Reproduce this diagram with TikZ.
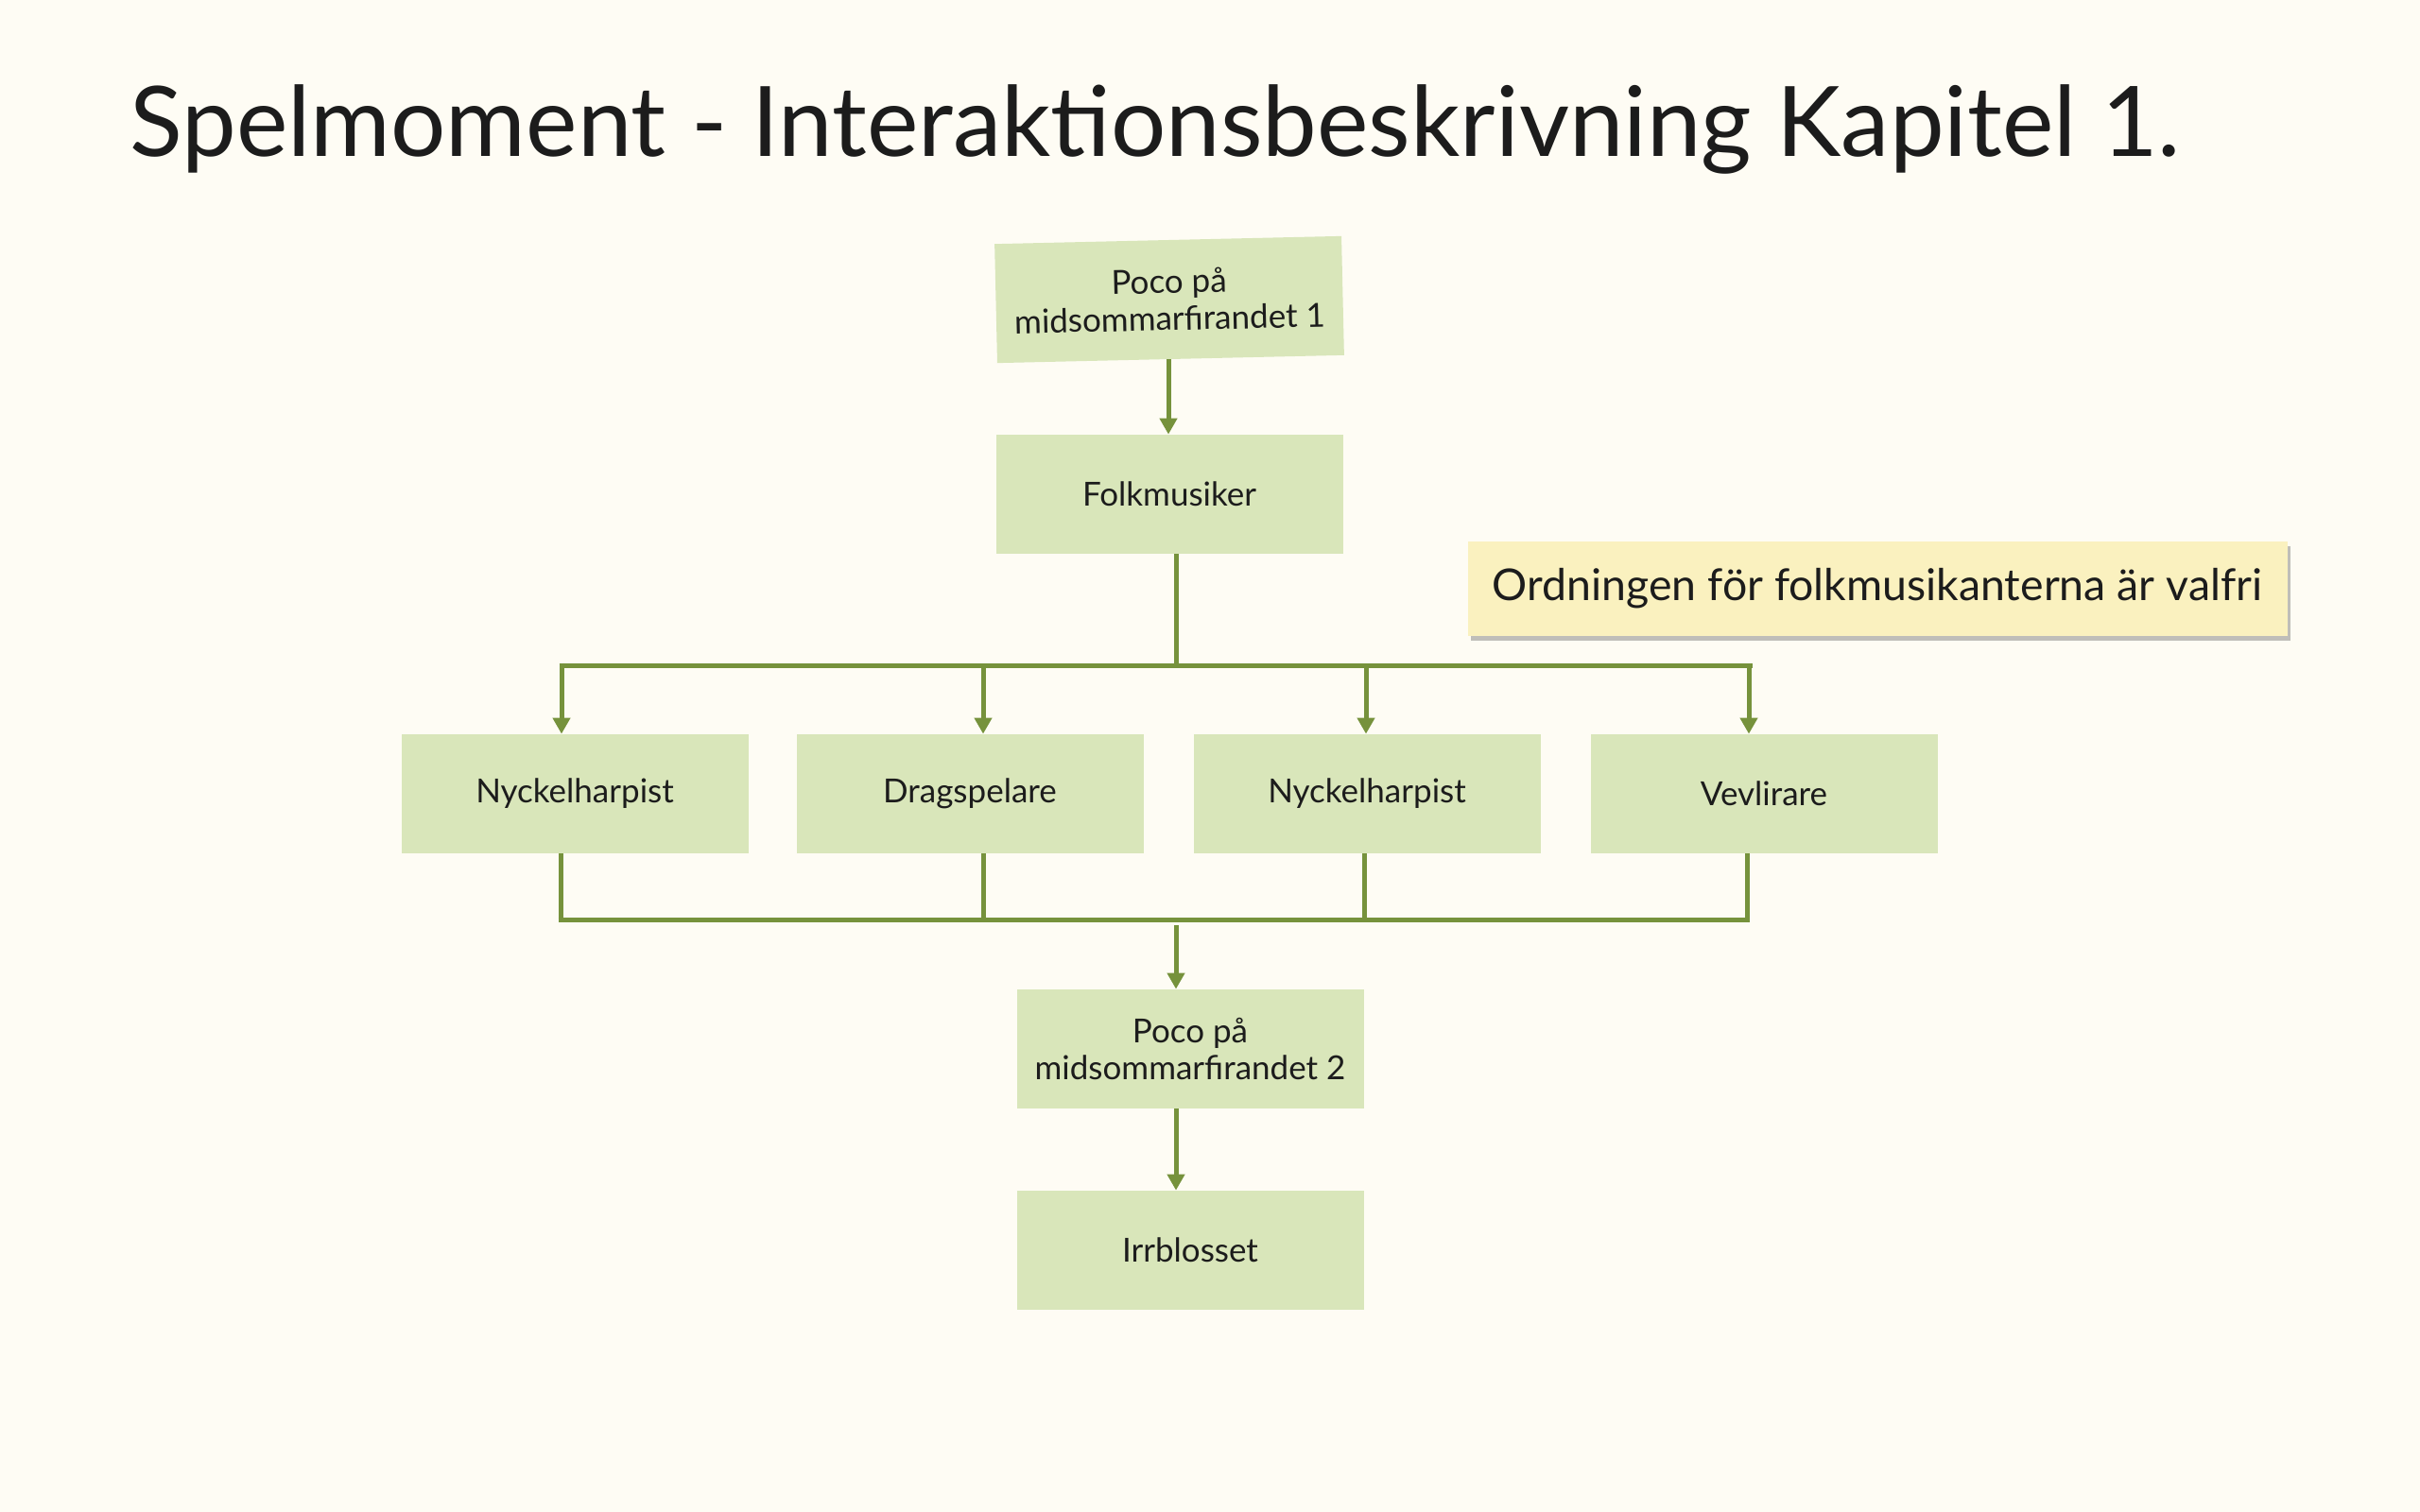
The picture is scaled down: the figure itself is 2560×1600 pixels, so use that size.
\documentclass[tikz,border=0pt]{standalone}
\usepackage{fontspec}
\setmainfont{Lato}
\usetikzlibrary{arrows.meta,shadows}
\definecolor{bgc}{HTML}{FEFCF4}
\definecolor{boxc}{HTML}{D9E6BA}
\definecolor{linec}{HTML}{76923C}
\definecolor{notec}{HTML}{FAF1BF}
\definecolor{txtc}{HTML}{1C1C1C}
\tikzset{
  stepbox/.style={fill=boxc, draw=none, minimum width=183.5pt, minimum height=63pt, inner sep=2pt, align=center, text=txtc, font=\fontsize{17.5}{19.5}\selectfont},
  conn/.style={draw=linec, line width=2.5pt},
  arr/.style={conn, -{Triangle[length=8.5pt,width=9pt]}},
}
\begin{document}
\begin{tikzpicture}[x=0.5pt,y=-0.5pt]
\fill[bgc] (0,0) rectangle (2560,1600);
\useasboundingbox (0,0) rectangle (2560,1600);

\node[anchor=base west, inner sep=0, text=txtc, font=\fontsize{51.5}{60}\selectfont] (title) at (137,165) {Spelmoment - Interaktionsbeskrivning Kapitel 1.};

\node[stepbox, rotate=1.3] (top) at (1237,317) {Poco på\\midsommarfirandet 1};
\node[stepbox] (folk) at (1237,523) {Folkmusiker};
\node[stepbox] (n1) at (608,840) {Nyckelharpist};
\node[stepbox] (drag) at (1026,840) {Dragspelare};
\node[stepbox] (n2) at (1446,840) {Nyckelharpist};
\node[stepbox] (vev) at (1866,840) {Vevlirare};
\node[stepbox] (poco2) at (1259,1110) {Poco på\\midsommarfirandet 2};
\node[stepbox] (irr) at (1259,1323) {Irrblosset};

\node[fill=notec, minimum width=433.5pt, minimum height=50pt, inner sep=0, text=txtc,
  font=\fontsize{23.2}{28}\selectfont,
  drop shadow={shadow xshift=1.5pt, shadow yshift=-2.5pt, opacity=0.35, fill=black!70}] (note) at (1986,623) {Ordningen för folkmusikanterna är valfri};

% top arrow
\coordinate (t1) at (1236,380);
\draw[arr] (t1) -- (t1 |- folk.north);

% upper bus
\coordinate (bT) at (1244,704);
\coordinate (bTL) at (594,704);
\coordinate (bTR) at (1851,704);
\coordinate (a1) at (594,704);
\coordinate (a2) at (1040,704);
\coordinate (a3) at (1445,704);
\coordinate (a4) at (1850,704);
\draw[conn] (bT |- folk.south) -- (bT);
\draw[conn] ([xshift=-1.25pt]bTL) -- ([xshift=1.25pt]bTR);
\draw[arr] ([yshift=1.25pt]a1) -- (a1 |- n1.north);
\draw[arr] (a2) -- (a2 |- drag.north);
\draw[arr] (a3) -- (a3 |- n2.north);
\draw[arr] ([yshift=1.25pt]a4) -- (a4 |- vev.north);

% lower bus
\coordinate (c1) at (593,973);
\coordinate (c2) at (1040,973);
\coordinate (c3) at (1443,973);
\coordinate (c4) at (1848,973);
\coordinate (cL) at (593,973);
\coordinate (cR) at (1851,973);
\draw[conn] (c1 |- n1.south) -- ([yshift=-1.25pt]c1);
\draw[conn] (c2 |- drag.south) -- (c2);
\draw[conn] (c3 |- n2.south) -- (c3);
\draw[conn] (c4 |- vev.south) -- ([yshift=-1.25pt]c4);
\draw[conn] ([xshift=-1.25pt]cL) -- (cR);

\coordinate (d1) at (1244,979);
\draw[arr] (d1) -- (d1 |- poco2.north);
\coordinate (d2) at (1244,1173);
\draw[arr] (d2 |- poco2.south) -- (d2 |- irr.north);
\end{tikzpicture}
\end{document}
